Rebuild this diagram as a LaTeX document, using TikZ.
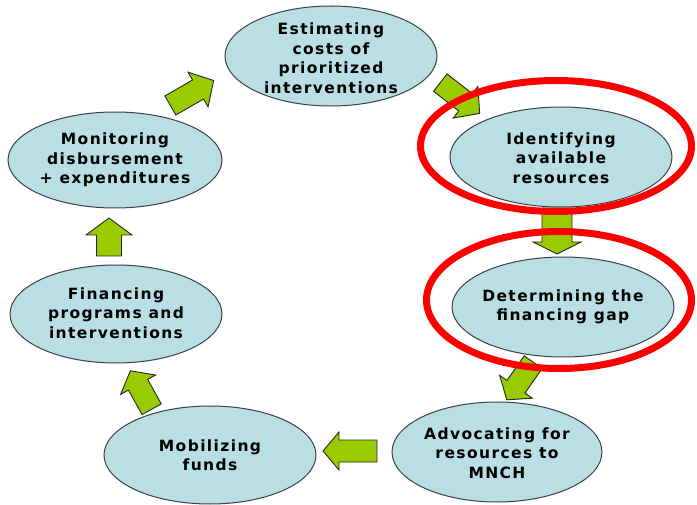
\documentclass[tikz,border=0pt]{standalone}
\usepackage{fontspec}
\newfontfamily\lblfont[LetterSpace=9]{DejaVu Sans}
\definecolor{ellfill}{HTML}{B9DEE3}
\definecolor{arrgreen}{HTML}{99CC00}
\begin{document}
\begin{tikzpicture}[x=1pt,y=-1pt,
  stagefill/.style={draw=black!75, line width=1pt, fill=ellfill},
  stagetext/.style={inner sep=0pt, align=center, text=black,
    font={\lblfont\bfseries\fontsize{15.5}{19.5}\selectfont}},
  ring/.style={draw=red, line width=7pt},
  barrowstyle/.style={draw=black!85, line width=0.9pt, fill=arrgreen, line join=miter},
  pics/barrow/.style args={#1/#2/#3/#4}{code={
    \draw[barrowstyle] (-#1/2,-#2/2) -- (#1/2-#4,-#2/2) -- (#1/2-#4,-#3/2) -- (#1/2,0)
      -- (#1/2-#4,#3/2) -- (#1/2-#4,#2/2) -- (-#1/2,#2/2) -- cycle;}}]
\useasboundingbox (0,0) rectangle (697,505);
% ellipses
\path[stagefill] (331,56) ellipse [x radius=106, y radius=50];
\node[stagetext] (est) at (331,58) {Estimating\\costs of\\prioritized\\interventions};
\path[stagefill] (561,157) ellipse [x radius=111, y radius=50];
\node[stagetext] (ide) at (561,158) {Identifying\\available\\resources};
\path[stagefill] (563,307) ellipse [x radius=111, y radius=50];
\node[stagetext] (det) at (563,307) {Determining the\\financing gap};
\path[stagefill] (497,452) ellipse [x radius=105, y radius=50];
\node[stagetext] (adv) at (497,453) {Advocating for\\resources to\\MNCH};
\path[stagefill] (210,455) ellipse [x radius=106, y radius=49];
\node[stagetext] (mob) at (210,455) {Mobilizing\\funds};
\path[stagefill] (116,314) ellipse [x radius=106, y radius=49];
\node[stagetext] (fin) at (116,313) {Financing\\programs and\\interventions};
\path[stagefill] (115,160) ellipse [x radius=107, y radius=48];
\node[stagetext] (mon) at (115,160) {Monitoring\\disbursement\\+ expenditures};
% block arrows
\pic[rotate=30] at (192,93) {barrow=50/22/40/18};
\pic[rotate=-38] at (460,98) {barrow=50/22/40/18};
\pic[rotate=-90] at (557,231) {barrow=46/30/48/12};
\pic[rotate=-125] at (520,381) {barrow=46/22/40/16};
\pic[rotate=180] at (350,451) {barrow=54/22/38/16};
\pic[rotate=119] at (141,390) {barrow=44/22/40/16};
\pic[rotate=90] at (109,237) {barrow=38/25/46/17};
% red rings
\draw[ring] (556,146) ellipse [x radius=135.5, y radius=65.5];
\draw[ring] (559,300) ellipse [x radius=132.5, y radius=68.5];
\end{tikzpicture}
\end{document}
